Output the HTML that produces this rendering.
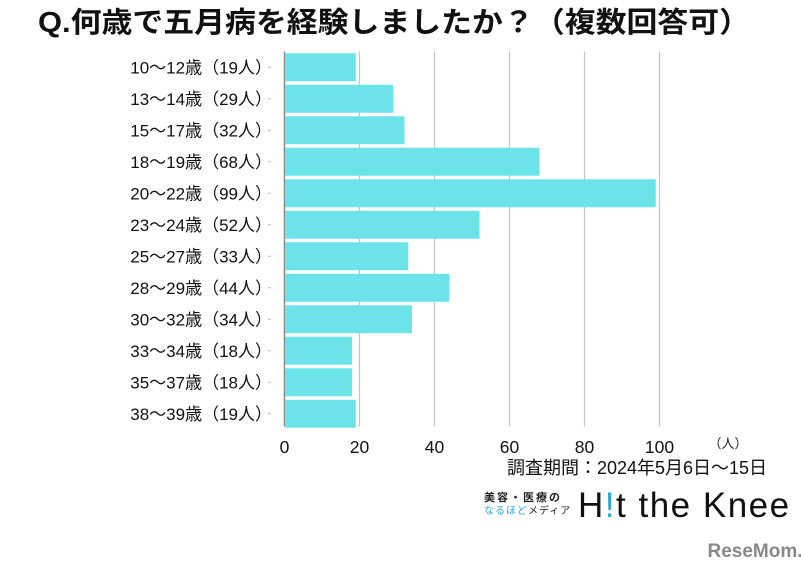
<!DOCTYPE html>
<html><head><meta charset="utf-8"><style>
body{margin:0;background:#fff;width:801px;height:573px;overflow:hidden;font-family:"Liberation Sans","Noto Sans CJK JP",sans-serif}
</style></head><body>
<svg width="801" height="573" style="font-family:'Liberation Sans','Noto Sans CJK JP',sans-serif">
<text x="394" y="32" text-anchor="middle" font-size="28.5" font-weight="bold" fill="#111" textLength="712" lengthAdjust="spacingAndGlyphs">Q.何歳で五月病を経験しましたか？（複数回答可）</text>
<g id="grid"></g><g id="bars"></g><g id="labels"></g><g id="ticks"></g>
<text x="728" y="448" text-anchor="middle" font-size="13" fill="#222">（人）</text>
<text x="637" y="474" text-anchor="middle" font-size="18" fill="#111">調査期間：2024年5月6日～15日</text>
<g>
<text x="484" y="501" font-size="11" font-weight="bold" fill="#222" letter-spacing="2">美容・医療の</text>
<text x="484" y="514" font-size="10" fill="#2aa8d8" letter-spacing="1">なるほど<tspan fill="#222">メディア</tspan></text>
<text x="578" y="517" font-size="35" fill="#111" letter-spacing="1.5">H<tspan fill="#2aa8d8">!</tspan>t the Knee</text>
</g>
<text x="755" y="557" text-anchor="middle" font-size="19" font-weight="bold" fill="#888">ReseMom.</text>
</svg>
<script>
const categories=["10～12歳（19人）","13～14歳（29人）","15～17歳（32人）","18～19歳（68人）","20～22歳（99人）","23～24歳（52人）","25～27歳（33人）","28～29歳（44人）","30～32歳（34人）","33～34歳（18人）","35～37歳（18人）","38～39歳（19人）"];
const values=[19,29,32,68,99,52,33,44,34,18,18,19];
const ticks=[0,20,40,60,80,100];
const NS="http://www.w3.org/2000/svg";
const x0=284.5,scale=3.75,top0=51.5,step=31.5,barH=28;
const xs=v=>x0+v*scale, yc=i=>top0+i*step+step/2;
function mk(t,a,p){const e=document.createElementNS(NS,t);for(const k in a)e.setAttribute(k,a[k]);p.appendChild(e);return e;}
const G=document.getElementById('grid'),B=document.getElementById('bars'),L=document.getElementById('labels'),T=document.getElementById('ticks');
ticks.forEach(t=>{
const l=mk('line',{x1:xs(t),x2:xs(t),y1:top0,y2:top0+12*step-3,stroke:t===0?'#888':'#c4c4c4','stroke-width':t===0?1.5:1.2},G);


const tx=mk('text',{x:xs(t),y:453,'text-anchor':'middle','font-size':17.5,fill:'#111'},T);tx.textContent=t;


});
categories.forEach((c,i)=>{
const r=mk('rect',{x:x0+1,y:yc(i)-barH/2,width:values[i]*scale-1,height:barH,fill:'#6be3e8'},B);


const tk=mk('line',{x1:268,x2:271,y1:yc(i),y2:yc(i),stroke:'#bbb'},G);


const tx=mk('text',{x:272,y:yc(i)+6,'text-anchor':'end','font-size':17,fill:'#111'},L);tx.textContent=c;


});
</script>
</body></html>
